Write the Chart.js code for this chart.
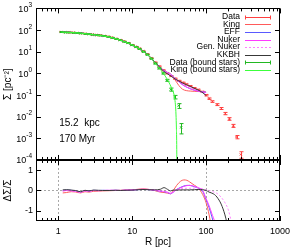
<!DOCTYPE html>
<html><head><meta charset="utf-8">
<script src="https://cdn.jsdelivr.net/npm/chart.js@4/dist/chart.umd.min.js"></script>
<style>html,body{margin:0;padding:0;background:#fff;}canvas{display:block;}</style>
</head><body>
<canvas id="c" width="295" height="248"></canvas>
<script>
// ---- data ----
const R_data = [1.1, 1.25, 1.4, 1.6, 1.8, 2.0, 2.3, 2.6, 2.9, 3.3, 3.7, 4.2, 4.7, 5.3, 6.0, 6.8, 7.7, 8.7, 9.8, 11.1, 12.5, 14.2, 16.0, 18.1, 20.4, 23.1, 26.1, 29.5, 33.3, 37.6, 42.5, 48.0, 54.3, 61.3, 69.3, 78.3, 88.5, 100, 110, 122, 141, 161, 182, 207, 234, 258, 295];
const S_data = [82, 79, 78, 76, 74, 71, 68, 65, 62, 59, 57, 54, 50, 45, 40, 35, 30, 25.5, 20.5, 17, 14, 10.5, 7.7, 5.0, 3.2, 2.1, 1.4, 1.0, 0.75, 0.57, 0.45, 0.37, 0.31, 0.26, 0.21, 0.175, 0.14, 0.098, 0.068, 0.05, 0.036, 0.024, 0.014, 0.0079, 0.0038, 0.00115, 0.00018];
const E_data = [2.5, 2.3, 2.2, 2.1, 2.0, 1.9, 1.8, 1.7, 1.6, 1.5, 1.4, 1.3, 1.2, 1.1, 1.0, 0.9, 0.8, 0.7, 0.6, 0.5, 0.45, 0.35, 0.28, 0.2, 0.14, 0.1, 0.07, 0.05, 0.04, 0.03, 0.025, 0.02, 0.017, 0.015, 0.012, 0.01, 0.009, 0.007, 0.005, 0.004, 0.0035, 0.0025, 0.0017, 0.0011, 0.0006, 0.0002, 0.00006];

const R_bound = [1.1, 1.25, 1.4, 1.6, 1.8, 2.0, 2.3, 2.6, 2.9, 3.3, 3.7, 4.2, 4.7, 5.3, 6.0, 6.8, 7.7, 8.7, 9.8, 11.1, 12.5, 14.2, 16.0, 18.1, 20.4, 23.1, 26.1, 29.5, 33.3, 37.6, 42.5, 46];
const S_bound = [81, 78, 77, 75, 73, 70, 67, 64, 61, 58, 56, 53, 49, 44, 39, 34, 29, 25, 20, 16.5, 13.5, 10, 7.3, 4.8, 2.85, 1.7, 1.0, 0.48, 0.18, 0.081, 0.032, 0.0032];
const E_bound = [2.5, 2.3, 2.2, 2.1, 2.0, 1.9, 1.8, 1.7, 1.6, 1.5, 1.4, 1.3, 1.2, 1.1, 1.0, 0.9, 0.8, 0.7, 0.6, 0.5, 0.45, 0.35, 0.28, 0.2, 0.14, 0.1, 0.07, 0.05, 0.03, 0.015, 0.008, 0.0016];

const R_model = [1.1, 1.5, 2, 3, 4, 5, 6, 8, 10, 12, 14, 16, 18, 20, 23, 26, 30, 34, 38, 43, 48, 54, 61, 69, 78, 88, 100];
const S_king  = [84, 79, 74, 62, 55, 47, 40, 28, 20, 14.3, 10.4, 7.6, 5.2, 3.5, 2.2, 1.5, 1.12, 0.85, 0.5, 0.27, 0.185, 0.16, 0.152, 0.148, 0.145, 0.142, 0.138];
const S_eff   = [81, 77, 73, 61, 54, 47, 40, 28.3, 20.2, 14.5, 10.5, 7.5, 5.0, 3.4, 2.15, 1.45, 1.1, 0.85, 0.57, 0.41, 0.30, 0.235, 0.195, 0.168, 0.152, 0.14, 0.135];
const S_nuker = [82, 78, 73, 61, 54, 47, 40, 28.3, 20.2, 14.5, 10.5, 7.5, 5.0, 3.4, 2.15, 1.43, 1.08, 0.84, 0.57, 0.41, 0.30, 0.235, 0.195, 0.168, 0.15, 0.14, 0.13];
const S_gen   = [82, 78, 73, 61, 54, 47, 40, 28.3, 20.2, 14.5, 10.5, 7.5, 5.0, 3.4, 2.15, 1.43, 1.08, 0.84, 0.55, 0.43, 0.34, 0.28, 0.235, 0.19, 0.16, 0.13, 0.096];
const S_kkbh  = [81, 77, 72, 61, 54, 47, 40, 28.5, 20.5, 15, 11, 7.8, 5.2, 3.5, 2.1, 1.35, 0.95, 0.72, 0.55, 0.44, 0.36, 0.30, 0.25, 0.205, 0.17, 0.135, 0.096];

const R_kingB = [1.1, 1.5, 2, 3, 4, 5, 6, 8, 10, 12, 14, 16, 18, 20, 22, 25, 28, 31, 34, 36, 37.5, 38.5, 39.2, 39.7, 40.0, 40.2];
const S_kingB = [81, 77, 72, 61, 54, 47, 40, 28.5, 20.5, 14.8, 10.6, 7.4, 5.0, 3.3, 2.2, 1.3, 0.75, 0.42, 0.22, 0.14, 0.075, 0.035, 0.012, 0.003, 0.0008, 0.0001];

const R_res = [1.15, 1.3, 1.5, 1.7, 2.0, 2.3, 2.6, 3, 3.5, 4, 5, 6, 7, 8, 10, 12, 14, 17, 20, 24, 27, 30, 33, 36, 40, 45, 50, 55, 60, 70, 78, 90, 100, 110, 120, 130, 140, 160, 180, 200, 220];
const D_king  = [-0.12,-0.10,-0.06,-0.07,-0.12,-0.06,-0.08,-0.04,-0.03,-0.02,-0.01,0.0,0.01,0.02,0.03,0.06,0.08,0.05,0.0,-0.08,-0.10,-0.13,-0.16,0.0,0.25,0.45,0.52,0.50,0.42,0.25,0.13,-0.2,-0.6,-1.2,-2.0,null,null,null,null,null,null];
const D_eff   = [0.0,0.02,0.01,-0.02,-0.08,0.0,-0.03,0.01,0.0,0.01,0.0,0.01,0.0,0.01,0.02,0.04,0.05,0.04,0.01,-0.04,-0.06,-0.10,-0.16,-0.08,0.05,0.15,0.22,0.25,0.25,0.18,0.13,-0.05,-0.45,-0.85,-1.3,-1.8,null,null,null,null,null];
const D_nuker = [-0.02,0.0,-0.02,-0.04,-0.09,-0.02,-0.05,0.0,-0.01,0.0,0.01,0.01,0.0,0.02,0.03,0.05,0.06,0.05,0.02,-0.03,-0.05,-0.09,-0.15,-0.08,0.04,0.13,0.2,0.24,0.25,0.2,0.14,0.0,-0.4,-0.75,-1.15,-1.5,-2.0,null,null,null,null];
const D_gen   = [-0.03,-0.01,-0.02,-0.04,-0.09,-0.02,-0.05,0.0,-0.01,0.0,0.01,0.01,0.0,0.02,0.03,0.05,0.06,0.05,0.02,-0.03,-0.05,-0.08,-0.12,-0.06,0.03,0.08,0.1,0.11,0.11,0.12,0.12,0.08,0.03,0.0,-0.04,-0.09,-0.14,-0.33,-0.6,-0.95,-1.55];
const D_kkbh  = [0.03,0.04,0.02,0.0,-0.06,0.01,-0.02,0.02,0.01,0.0,0.0,0.01,0.0,0.01,0.02,0.04,0.05,0.04,0.03,0.06,0.14,0.06,-0.02,0.02,0.02,0.03,0.03,0.03,0.03,0.04,0.05,0.04,0.0,-0.08,-0.13,-0.2,-0.32,-0.67,-1.2,-1.9,null];

const labels = ['Data', 'King', 'EFF', 'Nuker', 'Gen. Nuker', 'KKBH', 'Data (bound stars)', 'King (bound stars)'];
const xTickVals = [1, 10, 100, 1000];
const yTickVals = [1e-4, 1e-3, 1e-2, 1e-1, 1, 10, 100, 1000];
const rTickVals = [-1, 0, 1];
const refR = [1, 100];
const refRes = [0];
const annotText = ['15.2  kpc', '170 Myr'];
const annotR = [1.03, 1.03];
const annotS = [4.8e-3, 8.9e-4];
const titleMain = 'Σ [pc⁻²]';
const titleRes = 'ΔΣ/Σ';

// ---- styling ----
const FONT = '"Liberation Sans", Arial, Helvetica, sans-serif';
const COL = ['#ff4040', '#ff5a5a', '#5a5aff', '#ff3cff', '#ff80ff', '#383838', '#22b822', '#3cff3c'];
const DASH = [[], [], [], [], [2, 2], [], [], []];

const pts = (xs, ys) => xs.map((x, i) => ({x: x, y: ys[i]}));

function lineDs(i, xs, ys, axis, order) {
  return {label: labels[i], data: pts(xs, ys), yAxisID: axis, showLine: true, borderColor: COL[i],
    backgroundColor: COL[i], borderWidth: 1, borderDash: DASH[i], pointRadius: 0,
    cubicInterpolationMode: 'monotone', order: order, spanGaps: false};
}
function pointDs(i, xs, ys, order) {
  return {label: labels[i], data: pts(xs, ys), yAxisID: 'y', showLine: false, borderColor: COL[i],
    backgroundColor: COL[i], pointStyle: 'crossRot', pointRadius: 1.5, pointBorderWidth: 1, order: order};
}

const datasets = [
  pointDs(0, R_data, S_data, 8),
  lineDs(1, R_model, S_king, 'y', 7),
  lineDs(2, R_model, S_eff, 'y', 6),
  lineDs(3, R_model, S_nuker, 'y', 5),
  lineDs(4, R_model, S_gen, 'y', 4),
  lineDs(5, R_model, S_kkbh, 'y', 3),
  pointDs(6, R_bound, S_bound, 2),
  lineDs(7, R_kingB, S_kingB, 'y', 1),
  lineDs(1, R_res, D_king, 'yr', 15),
  lineDs(2, R_res, D_eff, 'yr', 14),
  lineDs(3, R_res, D_nuker, 'yr', 13),
  lineDs(4, R_res, D_gen, 'yr', 12),
  lineDs(5, R_res, D_kkbh, 'yr', 11)
];

function drawErr(chart, xs, ys, es, color) {
  const {ctx, scales: {x, y}} = chart;
  ctx.save();
  ctx.beginPath();
  ctx.rect(x.left, y.top, x.right - x.left, y.bottom - y.top);
  ctx.clip();
  ctx.strokeStyle = color; ctx.lineWidth = 1;
  ctx.beginPath();
  xs.forEach((r, i) => {
    const px = Math.round(x.getPixelForValue(r)) + 0.5;
    const hi = y.getPixelForValue(ys[i] + es[i]);
    const lo = y.getPixelForValue(Math.max(ys[i] - es[i], 1e-6));
    ctx.moveTo(px, lo); ctx.lineTo(px, hi);
    ctx.moveTo(px - 2, hi); ctx.lineTo(px + 2, hi);
    ctx.moveTo(px - 2, lo); ctx.lineTo(px + 2, lo);
  });
  ctx.stroke();
  ctx.restore();
}

function vTitle(ctx, text, cx, cy) {
  ctx.save();
  ctx.translate(cx, cy);
  ctx.rotate(-Math.PI / 2);
  ctx.font = '10px ' + FONT; ctx.fillStyle = '#000';
  ctx.textAlign = 'center'; ctx.textBaseline = 'middle';
  ctx.fillText(text, 0, 0);
  ctx.restore();
}

const panelPlugin = {
  id: 'panels',
  beforeDatasetsDraw(chart) {
    const {ctx, scales: {x, yr}} = chart;
    ctx.save();
    ctx.strokeStyle = '#a8a8a8'; ctx.lineWidth = 1; ctx.setLineDash([2, 2]);
    ctx.beginPath();
    refR.forEach(r => { const px = Math.round(x.getPixelForValue(r)) + 0.5; ctx.moveTo(px, yr.top); ctx.lineTo(px, yr.bottom); });
    refRes.forEach(v => { const py = Math.round(yr.getPixelForValue(v)) + 0.5; ctx.moveTo(x.left, py); ctx.lineTo(x.right, py); });
    ctx.stroke();
    ctx.restore();
  },
  afterDatasetDraw(chart, args) {
    if (args.index === 0) drawErr(chart, R_data, S_data, E_data, COL[0]);
    if (args.index === 6) drawErr(chart, R_bound, S_bound, E_bound, COL[6]);
  },
  afterDraw(chart) {
    const {ctx, scales: {x, y, yr}} = chart;
    ctx.save();
    ctx.strokeStyle = '#000'; ctx.lineWidth = 1;
    const L = Math.round(x.left) + 0.5, Rr = Math.round(x.right) - 0.5;
    const T = Math.round(y.top) + 0.5, M = Math.round(y.bottom), B = Math.round(yr.bottom) - 0.5;
    ctx.strokeRect(L, T, Rr - L, B - T);
    ctx.lineWidth = 2;
    ctx.beginPath(); ctx.moveTo(L, M); ctx.lineTo(Rr, M); ctx.stroke();
    ctx.lineWidth = 1;
    // x ticks (inward), major + minor
    const xt = [];
    for (let d = 0.1; d < 1000; d *= 10) for (let k = 1; k <= 9; k++) xt.push([k * d, k === 1]);
    xt.push([1000, true]);
    ctx.beginPath();
    xt.forEach(([v, maj]) => {
      if (v < x.min * 0.999 || v > x.max * 1.001) return;
      const px = Math.round(x.getPixelForValue(v)) + 0.5;
      const len = maj ? 5 : 3;
      [[y.top, 1], [y.bottom, -1], [yr.top, 1], [yr.bottom, -1]].forEach(([yy, s]) => {
        ctx.moveTo(px, yy); ctx.lineTo(px, yy + s * len);
      });
    });
    // y ticks
    y.ticks.forEach(t => {
      const py = Math.round(y.getPixelForValue(t.value)) + 0.5;
      ctx.moveTo(x.left, py); ctx.lineTo(x.left + 5, py);
      ctx.moveTo(x.right, py); ctx.lineTo(x.right - 5, py);
    });
    yr.ticks.forEach(t => {
      const py = Math.round(yr.getPixelForValue(t.value)) + 0.5;
      ctx.moveTo(x.left, py); ctx.lineTo(x.left + 5, py);
      ctx.moveTo(x.right, py); ctx.lineTo(x.right - 5, py);
    });
    ctx.stroke();
    // y tick labels with superscripts
    ctx.fillStyle = '#000'; ctx.textAlign = 'left'; ctx.textBaseline = 'alphabetic';
    y.ticks.forEach(t => {
      const e = String(Math.round(Math.log10(t.value)));
      const py = y.getPixelForValue(t.value);
      ctx.font = '9px ' + FONT; const wb = ctx.measureText('10').width;
      ctx.font = '6.5px ' + FONT; const we = ctx.measureText(e).width;
      const xr = x.left - 4;
      ctx.font = '9px ' + FONT; ctx.fillText('10', xr - we - wb, py + 3.5);
      ctx.font = '6.5px ' + FONT; ctx.fillText(e, xr - we, py - 1.5);
    });
    // axis titles (rotated)
    vTitle(ctx, titleMain, 8.5, (y.top + y.bottom) / 2);
    vTitle(ctx, titleRes, 8.5, (yr.top + yr.bottom) / 2);
    // annotations
    ctx.font = '10px ' + FONT; ctx.textBaseline = 'middle'; ctx.textAlign = 'left';
    annotText.forEach((s, i) => ctx.fillText(s, x.getPixelForValue(annotR[i]), y.getPixelForValue(annotS[i])));
    // legend
    ctx.font = '8.5px ' + FONT; ctx.textAlign = 'right'; ctx.textBaseline = 'middle';
    const tx = x.right - 40, s0 = x.right - 35, s1 = x.right - 9;
    labels.forEach((lab, i) => {
      const ry = y.top + 8.3 + i * 7.6;
      ctx.fillStyle = '#000';
      ctx.fillText(lab, tx, ry);
      const ly = Math.round(ry) + 0.5;
      ctx.strokeStyle = COL[i]; ctx.setLineDash(DASH[i]);
      ctx.beginPath(); ctx.moveTo(s0, ly); ctx.lineTo(s1, ly); ctx.stroke();
      ctx.setLineDash([]);
      if (i === 0 || i === 6) {
        ctx.beginPath();
        ctx.moveTo(s0 + 0.5, ly - 2); ctx.lineTo(s0 + 0.5, ly + 2);
        ctx.moveTo(s1 - 0.5, ly - 2); ctx.lineTo(s1 - 0.5, ly + 2);
        ctx.stroke();
      }
    });
    ctx.restore();
  }
};

new Chart(document.getElementById('c'), {
  type: 'scatter',
  data: {datasets: datasets},
  options: {
    responsive: false, animation: false, devicePixelRatio: 1, events: [],
    layout: {padding: {top: 5, right: 10, left: 0, bottom: 0}},
    plugins: {legend: {display: false}, tooltip: {enabled: false}},
    scales: {
      x: {
        type: 'logarithmic', min: 0.5, max: 1000, position: 'bottom',
        grid: {display: false, drawTicks: false}, border: {display: false},
        afterBuildTicks: s => { s.ticks = xTickVals.map(v => ({value: v})); },
        afterFit: s => { s.height = 27; },
        ticks: {color: '#000', font: {family: FONT, size: 9}, padding: 5, maxRotation: 0, autoSkip: false,
          callback: v => String(v)},
        title: {display: true, text: 'R [pc]', color: '#000', font: {family: FONT, size: 10}, padding: {top: 0, bottom: 0}}
      },
      y: {
        type: 'logarithmic', min: 1e-4, max: 1e3, position: 'left', stack: 'p', stackWeight: 154, weight: 1,
        grid: {display: false, drawTicks: false}, border: {display: false},
        afterBuildTicks: s => { s.ticks = yTickVals.map(v => ({value: v})); },
        afterFit: s => { s.width = 36; },
        ticks: {display: false},
        title: {display: false}
      },
      yr: {
        type: 'linear', min: -1.5, max: 1.5, position: 'left', stack: 'p', stackWeight: 62, weight: 0,
        grid: {display: false, drawTicks: false}, border: {display: false},
        afterBuildTicks: s => { s.ticks = rTickVals.map(v => ({value: v})); },
        afterFit: s => { s.width = 36; },
        ticks: {color: '#000', font: {family: FONT, size: 9}, padding: 3, autoSkip: false,
          callback: v => String(v)},
        title: {display: false}
      }
    }
  },
  plugins: [panelPlugin]
});
</script>
</body></html>
